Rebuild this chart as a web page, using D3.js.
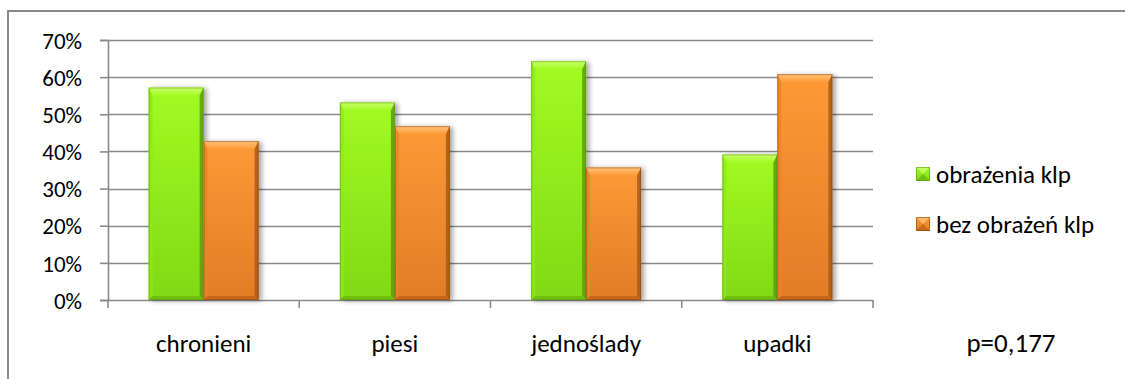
<!DOCTYPE html>
<html>
<head>
<meta charset="utf-8">
<script src="https://cdn.jsdelivr.net/npm/d3@7"></script>
<style>
  html, body { margin: 0; padding: 0; background: #fff; }
  svg { display: block; }
  text { font-family: Carlito, Calibri, Lato, "Open Sans", sans-serif; fill: #000; }
</style>
</head>
<body>
<svg id="chart" width="1125" height="379"></svg>
<script>
// Categories, series and axis ticks
const categories = ["chronieni", "piesi", "jednoślady", "upadki"];
const seriesNames = ["obrażenia klp", "bez obrażeń klp"];
const injured = [0.572, 0.532, 0.643, 0.392];
const notInjured = [0.428, 0.468, 0.357, 0.608];
const yTicks = [0, 0.1, 0.2, 0.3, 0.4, 0.5, 0.6, 0.7];
const pValueLabel = "p=0,177";

const seriesValues = [injured, notInjured];

const W = 1125, H = 379;
const plot = { left: 108, right: 873, top: 40, bottom: 300 };

const svg = d3.select("#chart");

// Bar palettes: body gradient, top/bottom bevels, side shading
const palettes = [
  { top: "#a2fb22", bottom: "#80d916", bevelTop: "#c8ff6a", bevelBottom: "#6dc011",
    left: "#8fe81a", right: "#5d9e0d", edge: "#4f8a0b" },
  { top: "#fd9a36", bottom: "#e27c27", bevelTop: "#ffc27a", bevelBottom: "#c8661c",
    left: "#e8842a", right: "#a85a18", edge: "#7a3f0c" }
];

const defs = svg.append("defs");
palettes.forEach((p, i) => {
  const g = defs.append("linearGradient").attr("id", "body" + i)
    .attr("x1", 0).attr("y1", 0).attr("x2", 0).attr("y2", 1);
  g.append("stop").attr("offset", "0%").attr("stop-color", p.top);
  g.append("stop").attr("offset", "100%").attr("stop-color", p.bottom);
  const t = defs.append("linearGradient").attr("id", "bevelTop" + i)
    .attr("x1", 0).attr("y1", 0).attr("x2", 0).attr("y2", 1);
  t.append("stop").attr("offset", "0%").attr("stop-color", p.bevelTop);
  t.append("stop").attr("offset", "100%").attr("stop-color", p.top);
});
const shadow = defs.append("filter").attr("id", "shadow")
  .attr("x", "-20%").attr("y", "-10%").attr("width", "150%").attr("height", "130%");
shadow.append("feGaussianBlur").attr("in", "SourceAlpha").attr("stdDeviation", 2.5).attr("result", "b");
shadow.append("feOffset").attr("in", "b").attr("dx", 3).attr("dy", 1).attr("result", "o");
shadow.append("feComponentTransfer").attr("in", "o").attr("result", "s")
  .append("feFuncA").attr("type", "linear").attr("slope", 0.35);
const merge = shadow.append("feMerge");
merge.append("feMergeNode").attr("in", "s");
merge.append("feMergeNode").attr("in", "SourceGraphic");

// Chart frame
svg.append("path")
  .attr("d", `M8,${H + 2} V11 H${W + 2}`)
  .attr("fill", "none").attr("stroke", "#898989").attr("stroke-width", 2);

// Scales
const y = d3.scaleLinear().domain([0, 0.7]).range([plot.bottom, plot.top]);
const x0 = d3.scaleBand().domain(categories).range([plot.left, plot.right])
  .paddingInner(0.425).paddingOuter(0.2125);
const x1 = d3.scaleBand().domain(d3.range(seriesNames.length)).range([0, x0.bandwidth()]);

// Horizontal gridlines
svg.append("g").selectAll("line").data(yTicks.filter(d => d > 0)).join("line")
  .attr("x1", plot.left).attr("x2", plot.right)
  .attr("y1", d => Math.round(y(d)) + 0.5).attr("y2", d => Math.round(y(d)) + 0.5)
  .attr("stroke", "#8a8a8a").attr("stroke-width", 1.6);

// Y axis
const yAxis = svg.append("g").attr("transform", `translate(${plot.left},0)`)
  .call(d3.axisLeft(y).tickValues(yTicks).tickFormat(d3.format(".0%")).tickSize(8).tickPadding(18));
yAxis.select(".domain").attr("stroke", "#8a8a8a").attr("stroke-width", 1.6);
yAxis.selectAll(".tick line").attr("stroke", "#8a8a8a").attr("stroke-width", 1.6);
yAxis.selectAll(".tick text").style("font-size", "23px").attr("fill", "#000").attr("dy", "0.36em");

// X axis: tick marks at category boundaries
const xAxisG = svg.append("g");
xAxisG.append("line").attr("x1", plot.left).attr("x2", plot.right)
  .attr("y1", plot.bottom + 0.5).attr("y2", plot.bottom + 0.5)
  .attr("stroke", "#8a8a8a").attr("stroke-width", 1.6);
const step = x0.step();
const boundaries = d3.range(categories.length + 1).map(i => plot.left + i * step);
xAxisG.selectAll("line.tk").data(boundaries).join("line").attr("class", "tk")
  .attr("x1", d => d).attr("x2", d => d)
  .attr("y1", plot.bottom).attr("y2", plot.bottom + 8)
  .attr("stroke", "#8a8a8a").attr("stroke-width", 1.6);
xAxisG.selectAll("text").data(categories).join("text")
  .attr("x", d => x0(d) + x0.bandwidth() / 2).attr("y", 352)
  .attr("text-anchor", "middle").style("font-size", "25px").text(d => d);

// Bevelled bar
function bevelBar(sel, bx, by, bw, bh, p, i) {
  const g = sel.append("g").attr("filter", "url(#shadow)");
  const bt = Math.min(8, bh / 2), bs = 4, bb = 4;
  g.append("rect").attr("x", bx).attr("y", by).attr("width", bw).attr("height", bh)
    .attr("fill", `url(#body${i})`);
  // top bevel
  g.append("path").attr("d", `M${bx},${by} H${bx + bw} L${bx + bw - bs},${by + bt} H${bx + bs} Z`)
    .attr("fill", `url(#bevelTop${i})`);
  // left bevel
  g.append("path").attr("d", `M${bx},${by} L${bx + bs},${by + bt} V${by + bh - bb} L${bx},${by + bh} Z`)
    .attr("fill", p.left).attr("opacity", 0.8);
  // right bevel
  g.append("path").attr("d", `M${bx + bw},${by} L${bx + bw - bs},${by + bt} V${by + bh - bb} L${bx + bw},${by + bh} Z`)
    .attr("fill", p.right).attr("opacity", 0.85);
  // bottom bevel
  g.append("path").attr("d", `M${bx},${by + bh} L${bx + bs},${by + bh - bb} H${bx + bw - bs} L${bx + bw},${by + bh} Z`)
    .attr("fill", p.bevelBottom);
  g.append("rect").attr("x", bx + 0.5).attr("y", by + 0.5).attr("width", bw - 1).attr("height", bh - 1)
    .attr("fill", "none").attr("stroke", p.edge).attr("stroke-opacity", 0.45).attr("stroke-width", 1);
}

const bars = svg.append("g");
categories.forEach((c, ci) => {
  seriesValues.forEach((vals, si) => {
    const v = vals[ci];
    const bx = x0(c) + x1(si);
    const by = y(v);
    bevelBar(bars, bx, by, x1.bandwidth(), y(0) - by, palettes[si], si);
  });
});

// Legend
const legend = svg.append("g");
const legendY = [174, 224];
seriesNames.forEach((name, i) => {
  const p = palettes[i];
  const sx = 916, sy = legendY[i] - 7, s = 14;
  legend.append("rect").attr("x", sx).attr("y", sy).attr("width", s).attr("height", s)
    .attr("fill", `url(#body${i})`);
  legend.append("path").attr("d", `M${sx},${sy} H${sx + s} L${sx + s / 2},${sy + s / 2} Z`)
    .attr("fill", p.bevelTop).attr("opacity", 0.8);
  legend.append("path").attr("d", `M${sx},${sy + s} H${sx + s} L${sx + s / 2},${sy + s / 2} Z`)
    .attr("fill", p.bevelBottom);
  legend.append("rect").attr("x", sx + 0.5).attr("y", sy + 0.5).attr("width", s - 1).attr("height", s - 1)
    .attr("fill", "none").attr("stroke", p.edge).attr("stroke-opacity", 0.5);
  legend.append("text").attr("x", 936).attr("y", legendY[i]).attr("dy", "0.34em")
    .style("font-size", "25px").text(name);
});

// Test result
svg.append("text").attr("x", 1011).attr("y", 352).attr("text-anchor", "middle")
  .style("font-size", "27px").text(pValueLabel);
</script>
</body>
</html>
